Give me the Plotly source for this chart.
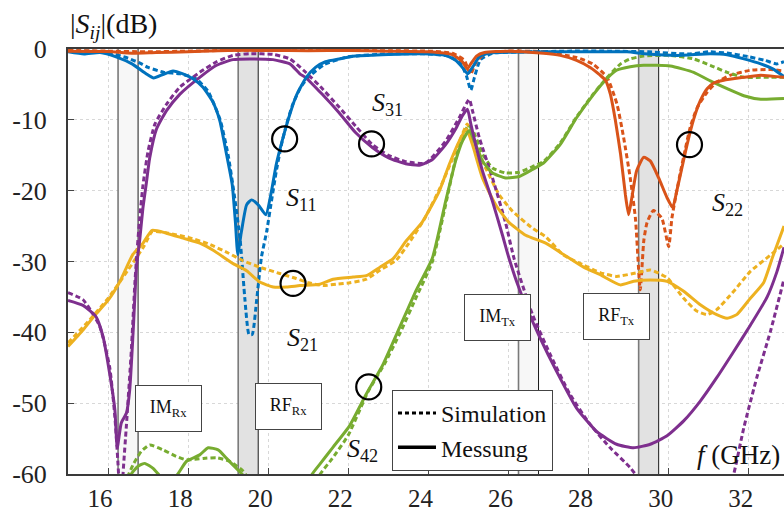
import plotly.graph_objects as go

# ---------------- data (frequency in GHz, magnitude in dB) ----------------
s11_meas_f = [15.0, 15.4, 15.8, 16.2, 16.6, 16.95, 17.14, 17.37, 17.62, 17.87, 18.12, 18.37, 18.62, 18.79, 18.96, 19.1, 19.18, 19.24, 19.33, 19.46, 19.58, 19.75, 19.94, 20.08, 20.2, 20.37, 20.54, 20.7, 20.95, 21.18, 21.43, 21.77, 22.18, 23.0, 23.85, 24.43, 24.68, 24.85, 24.98, 25.1, 25.27, 25.52, 26.0, 26.9, 27.7, 28.96, 29.4, 30.2, 31.04, 31.46, 31.88, 32.3, 32.6, 32.88]
s11_meas_db = [-0.4, -0.7, -0.5, -1.1, -2.1, -3.5, -4.1, -3.6, -3.1, -3.5, -4.2, -5.4, -7.5, -10.1, -14.9, -19.1, -24.4, -29.0, -25.8, -22.0, -21.3, -22.0, -23.4, -20.1, -16.3, -12.5, -9.2, -6.6, -4.0, -2.6, -1.8, -1.4, -1.0, -0.76, -0.66, -0.9, -1.6, -2.6, -3.5, -2.6, -1.1, -0.57, -0.45, -0.4, -0.4, -0.4, -0.66, -0.9, -0.66, -0.8, -1.4, -2.1, -2.8, -3.9]

s11_sim_f = [15.0, 15.5, 16.0, 16.5, 16.8, 17.0, 17.4, 17.8, 18.2, 18.5, 18.8, 19.0, 19.15, 19.3, 19.42, 19.52, 19.6, 19.71, 19.83, 19.96, 20.08, 20.2, 20.33, 20.46, 20.6, 20.8, 21.0, 21.4, 22.0, 23.0, 24.0, 24.5, 24.8, 24.95, 25.06, 25.15, 25.3, 25.6, 26.5, 27.5, 28.5, 29.5, 30.5, 31.0, 31.5, 32.0, 32.4, 32.7, 32.88]
s11_sim_db = [-0.3, -0.3, -0.5, -1.3, -2.0, -2.6, -3.3, -3.5, -4.2, -6.0, -10.0, -15.0, -20.5, -27.0, -35.5, -40.3, -40.3, -35.5, -29.4, -25.8, -21.5, -17.3, -13.5, -10.6, -8.0, -5.5, -4.0, -2.2, -1.1, -0.7, -0.7, -1.0, -2.0, -3.8, -5.8, -4.0, -1.5, -0.6, -0.4, -0.3, -0.3, -0.4, -0.7, -0.4, -0.6, -1.1, -1.6, -2.1, -1.8]

s22_meas_f = [15.0, 16.0, 16.6, 17.2, 18.0, 19.0, 20.0, 21.0, 22.0, 23.0, 24.0, 24.6, 24.85, 24.97, 25.07, 25.2, 25.4, 26.0, 26.875, 27.29, 27.7, 28.04, 28.29, 28.42, 28.54, 28.67, 28.8, 28.92, 29.0, 29.08, 29.2, 29.375, 29.54, 29.75, 29.96, 30.1, 30.2, 30.33, 30.46, 30.625, 30.79, 30.96, 31.125, 31.375, 31.875, 32.3, 32.7, 32.88]
s22_meas_db = [-0.3, -0.35, -0.6, -0.5, -0.4, -0.2, -0.2, -0.25, -0.2, -0.3, -0.4, -0.8, -1.8, -2.8, -2.0, -1.0, -0.5, -0.3, -0.6, -0.9, -1.6, -2.6, -3.7, -4.4, -6.3, -10.1, -14.9, -20.6, -23.4, -21.0, -17.2, -15.3, -15.8, -18.2, -21.0, -22.4, -20.1, -16.8, -13.5, -9.9, -7.3, -5.6, -4.8, -4.4, -4.0, -3.7, -3.9, -4.0]

s22_sim_f = [15.0, 16.0, 17.0, 18.0, 19.0, 20.0, 21.0, 22.0, 23.0, 24.0, 24.6, 24.9, 25.05, 25.2, 25.4, 26.0, 26.875, 27.7, 28.1, 28.46, 28.71, 28.875, 29.04, 29.17, 29.29, 29.38, 29.46, 29.62, 29.83, 30.0, 30.08, 30.17, 30.29, 30.42, 30.54, 30.71, 30.96, 31.2, 31.54, 32.04, 32.54, 32.88]
s22_sim_db = [-0.2, -0.3, -0.4, -0.3, -0.2, -0.15, -0.2, -0.2, -0.25, -0.3, -0.6, -1.6, -3.6, -1.8, -0.7, -0.3, -0.4, -1.2, -2.1, -4.0, -7.8, -12.5, -18.2, -23.9, -34.0, -27.0, -24.5, -22.8, -23.9, -27.9, -23.9, -21.0, -17.5, -14.0, -11.0, -8.3, -6.1, -4.7, -3.7, -3.0, -2.9, -3.1]

s21_meas_f = [15.0, 15.37, 15.67, 16.0, 16.29, 16.62, 16.875, 17.1, 17.46, 17.875, 18.29, 18.625, 19.125, 19.46, 19.79, 20.125, 20.46, 20.79, 21.29, 21.62, 22.12, 22.45, 22.79, 23.12, 23.43, 23.85, 24.27, 24.52, 24.77, 24.95, 25.1, 25.35, 25.68, 26.0, 26.43, 26.93, 27.375, 27.875, 28.3, 28.79, 29.125, 29.54, 29.96, 30.375, 30.79, 31.2, 31.46, 31.7, 32.04, 32.37, 32.6, 32.88]
s21_meas_db = [-42.0, -39.7, -37.6, -35.5, -32.9, -29.0, -27.4, -25.6, -26.0, -26.7, -27.4, -28.4, -30.3, -31.3, -32.9, -33.6, -33.6, -33.4, -33.2, -32.5, -32.2, -32.0, -30.8, -29.6, -27.2, -24.4, -20.1, -16.3, -13.0, -11.3, -13.5, -18.2, -22.0, -24.4, -26.3, -27.4, -29.0, -30.8, -31.9, -33.3, -32.8, -32.6, -32.8, -34.2, -36.1, -37.5, -38.0, -37.5, -35.2, -33.0, -29.3, -25.0]

s21_sim_f = [15.0, 15.5, 16.0, 16.5, 16.9, 17.1, 17.5, 18.0, 18.5, 19.0, 19.375, 19.79, 20.29, 20.7, 21.0, 21.37, 21.7, 22.04, 22.45, 22.8, 23.2, 23.5, 23.9, 24.3, 24.6, 24.85, 24.97, 25.1, 25.43, 25.77, 26.1, 26.6, 26.93, 27.375, 27.875, 28.3, 28.7, 29.2, 29.54, 29.96, 30.375, 30.7, 30.96, 31.2, 31.625, 32.04, 32.54, 32.88]
s21_sim_db = [-41.5, -38.5, -35.2, -31.2, -27.8, -25.8, -26.0, -26.6, -27.5, -28.8, -29.9, -30.8, -31.7, -32.4, -33.0, -33.4, -33.2, -33.0, -32.5, -31.2, -29.8, -27.5, -24.0, -19.5, -15.5, -12.0, -10.6, -12.5, -16.8, -20.6, -22.9, -25.3, -26.5, -29.1, -30.5, -31.6, -32.1, -31.6, -31.2, -32.3, -35.2, -37.0, -37.5, -36.8, -34.2, -31.4, -29.1, -27.5]

s31_meas_f = [15.0, 15.375, 15.7, 15.875, 16.04, 16.17, 16.23, 16.33, 16.46, 16.54, 16.625, 16.71, 16.79, 16.87, 16.95, 17.04, 17.21, 17.46, 17.79, 18.29, 18.71, 19.12, 19.54, 20.12, 20.54, 20.79, 20.95, 21.35, 21.77, 22.18, 22.6, 23.02, 23.43, 23.77, 24.1, 24.43, 24.68, 24.85, 24.975, 25.06, 25.18, 25.35, 25.6, 25.85, 26.0, 26.2, 26.46, 26.79, 27.2, 27.7, 28.2, 28.7, 29.125, 29.54, 29.96, 30.375, 30.79, 31.2, 31.625, 32.04, 32.46, 32.7, 32.88]
s31_meas_db = [-35.5, -36.2, -37.8, -40.6, -45.8, -50.9, -56.3, -52.8, -51.4, -48.2, -40.1, -30.8, -27.0, -22.5, -19.2, -15.4, -11.3, -8.7, -6.4, -4.0, -2.3, -1.5, -1.4, -1.5, -2.1, -3.5, -4.1, -6.4, -9.0, -11.8, -13.9, -15.4, -16.2, -16.4, -15.6, -13.5, -11.3, -9.4, -8.5, -10.6, -13.5, -17.2, -21.5, -26.3, -29.3, -32.8, -36.6, -40.8, -45.5, -50.7, -54.0, -55.8, -56.3, -55.8, -54.6, -52.5, -49.7, -46.4, -42.7, -39.0, -35.0, -31.5, -28.0]

s31_sim_f = [15.0, 15.375, 15.79, 16.04, 16.17, 16.25, 16.3, 16.34, 16.375, 16.46, 16.58, 16.67, 16.71, 16.79, 16.875, 17.0, 17.17, 17.46, 17.79, 18.29, 18.71, 19.12, 19.54, 20.12, 20.54, 20.88, 21.3, 21.77, 22.2, 22.6, 23.0, 23.43, 23.93, 24.43, 24.77, 25.02, 25.1, 25.27, 25.6, 25.93, 26.14, 26.6, 27.04, 27.54, 28.04, 28.54, 29.04, 29.3, 29.8, 30.5, 31.2, 31.5, 31.625, 31.875, 32.2, 32.54, 32.88]
s31_sim_db = [-34.4, -35.4, -39.1, -44.9, -51.9, -58.7, -64.0, -66.0, -60.0, -53.0, -42.7, -33.1, -29.6, -23.9, -19.1, -14.4, -10.6, -7.8, -5.4, -3.3, -1.8, -0.9, -0.66, -0.76, -1.4, -3.0, -5.3, -8.2, -11.0, -13.5, -15.0, -15.9, -16.1, -13.0, -9.7, -7.1, -8.7, -12.5, -18.2, -24.6, -29.6, -37.5, -43.1, -48.8, -53.0, -56.3, -59.1, -61.0, -64.0, -66.0, -64.5, -62.0, -60.0, -53.5, -46.4, -39.9, -32.5]

s42_meas_f = [16.4, 16.58, 16.75, 16.92, 17.125, 17.3, 17.45, 17.7, 17.96, 18.29, 18.5, 18.75, 18.96, 19.2, 19.375, 19.6, 20.0, 20.5, 20.9, 21.1, 21.29, 21.62, 22.03, 22.45, 22.87, 23.29, 23.7, 24.1, 24.43, 24.68, 24.85, 25.02, 25.18, 25.35, 25.6, 25.93, 26.27, 26.6, 26.875, 27.29, 27.7, 28.125, 28.42, 28.7, 29.04, 29.375, 30.04, 30.625, 31.04, 31.46, 31.875, 32.3, 32.88]
s42_meas_db = [-62.5, -60.0, -58.9, -58.5, -59.2, -60.3, -61.0, -60.3, -58.2, -57.3, -56.3, -56.6, -57.8, -59.2, -60.2, -62.0, -65.0, -66.0, -62.5, -60.0, -58.6, -56.2, -53.2, -48.7, -44.5, -39.2, -34.0, -29.5, -21.5, -15.8, -13.0, -11.5, -13.5, -15.8, -17.5, -18.2, -18.0, -17.0, -16.1, -13.5, -9.7, -6.4, -4.4, -3.0, -2.5, -2.3, -2.4, -3.3, -4.5, -5.6, -6.6, -7.1, -7.0]

s42_sim_f = [16.4, 16.625, 16.83, 17.04, 17.375, 17.7, 17.96, 18.375, 18.71, 19.04, 19.375, 19.6, 20.0, 20.5, 21.0, 21.3, 21.6, 22.0, 22.5, 22.9, 23.3, 23.7, 24.1, 24.43, 24.68, 24.85, 25.0, 25.15, 25.35, 25.6, 25.93, 26.27, 26.6, 26.875, 27.29, 27.7, 28.125, 28.42, 28.8, 29.04, 29.375, 30.04, 30.625, 31.04, 31.46, 31.875, 32.3, 32.88]
s42_sim_db = [-61.5, -58.7, -56.8, -55.9, -56.6, -57.5, -58.0, -57.8, -57.7, -58.2, -59.6, -61.5, -64.5, -66.5, -63.5, -60.0, -57.8, -54.5, -48.3, -44.5, -40.0, -35.0, -30.0, -22.0, -15.5, -12.5, -10.8, -12.0, -14.8, -16.8, -17.5, -17.4, -16.6, -15.9, -13.3, -9.6, -6.3, -4.3, -2.1, -1.4, -1.0, -0.9, -1.4, -2.3, -3.3, -4.0, -4.0, -4.0]

# highlighted points (circles)
circle_f = [20.41, 22.58, 20.62, 22.51, 30.52]
circle_db = [-12.7, -13.4, -33.1, -47.7, -13.5]

# frequency bands
band_names = ["IM<sub>Rx</sub>", "RF<sub>Rx</sub>", "IM<sub>Tx</sub>", "RF<sub>Tx</sub>"]
band_lo = [16.25, 19.25, 26.25, 29.25]
band_hi = [16.75, 19.75, 26.75, 29.75]
band_label_f = [17.5, 20.51, 25.72, 28.70]
band_label_db = [-50.7, -50.5, -37.9, -37.7]

# curve labels
label_text = ["<i>S</i><sub>31</sub>", "<i>S</i><sub>11</sub>", "<i>S</i><sub>21</sub>", "<i>S</i><sub>42</sub>", "<i>S</i><sub>22</sub>"]
label_f = [22.97, 20.84, 20.85, 22.36, 31.47]
label_db = [-7.8, -21.2, -40.9, -56.6, -21.9]

x_ticks = [16, 18, 20, 22, 24, 26, 28, 30, 32]
y_ticks = [0, -10, -20, -30, -40, -50, -60]

# ---------------- styling ----------------
FONT = "Liberation Serif"
BLUE, ORANGE, YELLOW, PURPLE, GREEN = "#0072BD", "#D95319", "#EDB120", "#7E2F8E", "#77AC30"
DASH = "5px,3px"
LW = 3

series = [
    (s11_sim_f, s11_sim_db, BLUE, True), (s22_sim_f, s22_sim_db, ORANGE, True),
    (s21_sim_f, s21_sim_db, YELLOW, True), (s42_sim_f, s42_sim_db, GREEN, True),
    (s31_sim_f, s31_sim_db, PURPLE, True),
    (s21_meas_f, s21_meas_db, YELLOW, False), (s42_meas_f, s42_meas_db, GREEN, False),
    (s31_meas_f, s31_meas_db, PURPLE, False), (s11_meas_f, s11_meas_db, BLUE, False),
    (s22_meas_f, s22_meas_db, ORANGE, False),
]

fig = go.Figure()

# bands (shading + edge lines)
for i, (lo, hi) in enumerate(zip(band_lo, band_hi)):
    fill = "#f7f7f7" if i % 2 == 0 else "#e2e2e2"
    fig.add_shape(type="rect", xref="x", yref="y", x0=lo, x1=hi, y0=-60, y1=0,
                  fillcolor=fill, line=dict(width=0), layer="between")
    fig.add_shape(type="line", xref="x", yref="y", x0=lo, x1=lo, y0=-60, y1=0,
                  line=dict(color="#7a7a7a", width=1.6), layer="between")
    fig.add_shape(type="line", xref="x", yref="y", x0=hi, x1=hi, y0=-60, y1=0,
                  line=dict(color="#1a1a1a", width=1), layer="between")

for f, db, col, sim in series:
    fig.add_trace(go.Scatter(
        x=f, y=db, mode="lines", showlegend=False, hoverinfo="skip",
        line=dict(color=col, width=LW, dash=DASH if sim else "solid",
                  shape="spline", smoothing=0.5)))

fig.add_trace(go.Scatter(
    x=circle_f, y=circle_db, mode="markers", showlegend=False, hoverinfo="skip",
    marker=dict(symbol="circle-open", size=25, color="black",
                line=dict(width=2.2, color="black"))))

# legend entries
fig.add_trace(go.Scatter(x=[None], y=[None], mode="lines", name="Simulation",
                         line=dict(color="black", width=3, dash="4px,3px")))
fig.add_trace(go.Scatter(x=[None], y=[None], mode="lines", name="Messung",
                         line=dict(color="black", width=3.5)))

annotations = []
for t, f, db in zip(band_names, band_label_f, band_label_db):
    annotations.append(dict(x=f, y=db, xref="x", yref="y", text=t, showarrow=False,
                            font=dict(family=FONT, size=18, color="#111"),
                            bgcolor="white", bordercolor="#444", borderwidth=1,
                            borderpad=0, width=65, height=45))
for t, f, db in zip(label_text, label_f, label_db):
    annotations.append(dict(x=f, y=db, xref="x", yref="y", text=t, showarrow=False,
                            font=dict(family=FONT, size=26, color="#111")))
annotations.append(dict(x=0, y=1.055, xref="paper", yref="paper", xanchor="left",
                        yanchor="middle", showarrow=False,
                        text="|<i>S</i><sub><i>ij</i></sub>|(dB)",
                        font=dict(family=FONT, size=28, color="#111")))
annotations.append(dict(x=0.997, y=0.045, xref="paper", yref="paper", xanchor="right",
                        yanchor="middle", showarrow=False, text="<i>f</i> (GHz)",
                        font=dict(family=FONT, size=27, color="#111")))

fig.update_layout(
    width=784, height=514,
    margin=dict(l=68, r=0, t=49, b=40, autoexpand=False),
    plot_bgcolor="white", paper_bgcolor="white",
    font=dict(family=FONT, size=24, color="#222"),
    annotations=annotations,
    showlegend=True,
    legend=dict(x=0.4525, y=0.1976, xanchor="left", yanchor="top",
                bgcolor="white", bordercolor="#444", borderwidth=1,
                font=dict(family=FONT, size=24, color="#111"),
                itemwidth=38, tracegroupgap=0),
    xaxis=dict(range=[15, 32.88], tickvals=x_ticks, ticktext=[str(v) for v in x_ticks],
               ticks="inside", ticklen=6, tickcolor="#444", tickwidth=1,
               showline=True, linecolor="#3a3a3a", linewidth=2, mirror=True,
               showgrid=True, gridcolor="#d8d8d8", griddash="3px,3px", gridwidth=1,
               zeroline=False, ticklabelshift=-8, ticklabelstandoff=1, automargin=False,
               tickfont=dict(family=FONT, size=25, color="#222")),
    yaxis=dict(range=[-60, 0], tickvals=y_ticks, ticktext=[str(v) for v in y_ticks],
               ticks="inside", ticklen=6, tickcolor="#444", tickwidth=1,
               showline=True, linecolor="#3a3a3a", linewidth=2, automargin=False,
               showgrid=True, gridcolor="#d8d8d8", griddash="3px,3px", gridwidth=1,
               zeroline=False, ticklabelstandoff=14,
               tickfont=dict(family=FONT, size=26, color="#222")),
)

# remove the default 8px page margin so the figure fills the window exactly
fig.write_html("out.html", config={"displayModeBar": False},
               post_script="document.body.style.margin='0';document.body.style.overflow='hidden';")
